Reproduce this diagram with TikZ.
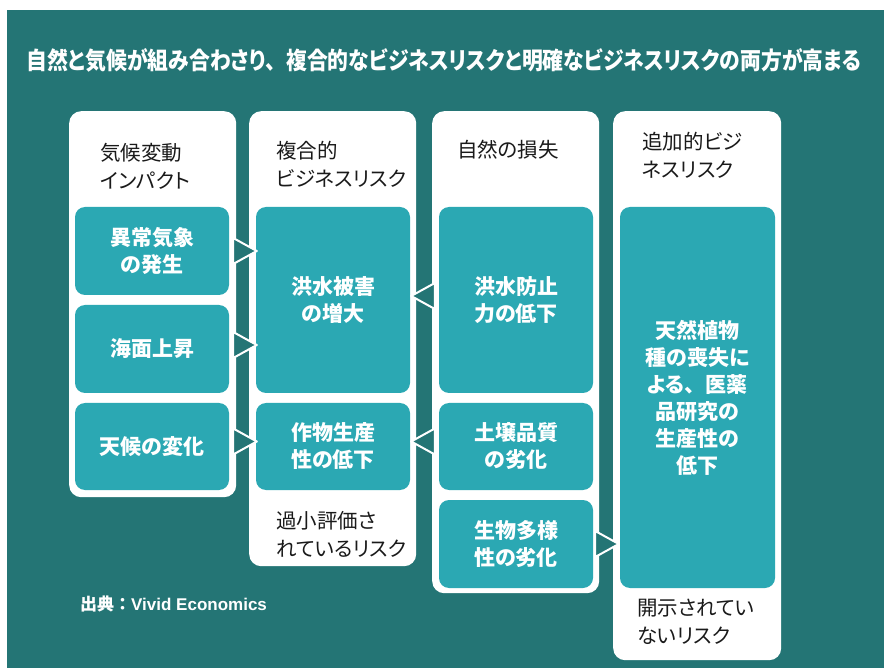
\documentclass[tikz,border=0pt]{standalone}
\usepackage{fontspec}
\setmainfont{Noto Sans CJK JP}[RawFeature=+palt]
\newfontfamily\cjkfull{Noto Sans CJK JP}
\newfontfamily\latinfont{Liberation Sans}
\usetikzlibrary{calc}
\definecolor{bgteal}{HTML}{247575}
\definecolor{boxteal}{HTML}{2BA8B3}
\definecolor{hdark}{HTML}{1A1A1A}
\begin{document}
\begin{tikzpicture}[x=1pt,y=-1pt,
  col/.style={fill=white, rounded corners=12pt, inner sep=0pt, anchor=north west},
  ibox/.style={fill=boxteal, rounded corners=10pt, inner sep=0pt, text=white,
    font=\fontsize{21}{27}\selectfont\bfseries, align=center},
  htext/.style={text=hdark, font=\fontsize{20.5}{28}\selectfont, align=left, anchor=west, inner sep=0pt},
  tri/.style={fill=bgteal, draw=white, line width=2pt, line join=round}]
\useasboundingbox (0,0) rectangle (884,668);
\fill[white] (0,0) rectangle (884,668);
\fill[bgteal] (7,10) rectangle (884,668);

\node[text=white, font=\fontsize{21}{24}\selectfont\bfseries, inner sep=0pt] (title) at (444,60)
  {\resizebox{835pt}{!}{\scalebox{1}[1.15]{自然と気候が組み合わさり{\cjkfull\bfseries 、}複合的なビジネスリスクと明確なビジネスリスクの両方が高まる}}};

% columns
\node[col, minimum width=167pt, minimum height=386pt] (c1) at (69,111) {};
\node[col, minimum width=167pt, minimum height=455pt] (c2) at (249,111) {};
\node[col, minimum width=167pt, minimum height=482pt] (c3) at (432,111) {};
\node[col, minimum width=168pt, minimum height=549pt] (c4) at (613,111) {};

% headers / footers
\node[htext] (h1) at (100,166) {気候変動\\インパクト};
\node[htext] (h2) at (276,164) {複合的\\ビジネスリスク};
\node[htext] (h3) at (457,150) {自然の損失};
\node[htext] (h4) at (642,155) {追加的ビジ\\ネスリスク};
\node[htext] (f2) at (276,534) {過小評価さ\\れているリスク};
\node[htext] (f4) at (637,622) {開示されてい\\ないリスク};

% inner boxes
\node[ibox, minimum width=154pt, minimum height=88pt] (b11) at (152,251) {異常気象\\の発生};
\node[ibox, minimum width=154pt, minimum height=88pt] (b12) at (152,349) {海面上昇};
\node[ibox, minimum width=154pt, minimum height=87pt] (b13) at (152,446.5) {天候の変化};
\node[ibox, minimum width=154pt, minimum height=186pt] (b21) at (333,300) {洪水被害\\の増大};
\node[ibox, minimum width=154pt, minimum height=87pt] (b22) at (333,446.5) {作物生産\\性の低下};
\node[ibox, minimum width=154pt, minimum height=186pt] (b31) at (516,300) {洪水防止\\力の低下};
\node[ibox, minimum width=154pt, minimum height=87pt] (b32) at (516,446.5) {土壌品質\\の劣化};
\node[ibox, minimum width=154pt, minimum height=88pt] (b33) at (516,544) {生物多様\\性の劣化};
\node[ibox, minimum width=155pt, minimum height=381pt] (b4) at (697.5,397.5)
  {天然植物\\種の喪失に\\よる{\cjkfull\bfseries 、}医薬\\品研究の\\生産性の\\低下};

% arrow triangles
\draw[tri] ($(b11.east)+(4,-13)$) -- ($(b11.east)+(4,13)$) -- ($(b21.west |- b11.east)+(1,0)$) -- cycle;
\draw[tri] ($(b12.east)+(4,-17)$) -- ($(b12.east)+(4,9)$) -- ($(b21.west |- b12.east)+(1,-4)$) -- cycle;
\draw[tri] ($(b13.east)+(4,-18)$) -- ($(b13.east)+(4,8)$) -- ($(b22.west |- b13.east)+(1,-5)$) -- cycle;
\draw[tri] ($(b31.west)+(-4,-17)$) -- ($(b31.west)+(-4,9)$) -- ($(b21.east |- b31.west)+(1,-4)$) -- cycle;
\draw[tri] ($(b32.west)+(-4,-18)$) -- ($(b32.west)+(-4,8)$) -- ($(b22.east |- b32.west)+(1,-5)$) -- cycle;
\draw[tri] ($(b33.east)+(2,-13)$) -- ($(b33.east)+(2,13)$) -- ($(b4.west |- b33.east)+(-1,0)$) -- cycle;

% source
\node[text=white, font=\fontsize{17}{20}\selectfont\bfseries, anchor=west, inner sep=0pt] (src) at (80,604)
  {出典{\cjkfull\bfseries ：}{\latinfont\bfseries Vivid Economics}};
\end{tikzpicture}
\end{document}
